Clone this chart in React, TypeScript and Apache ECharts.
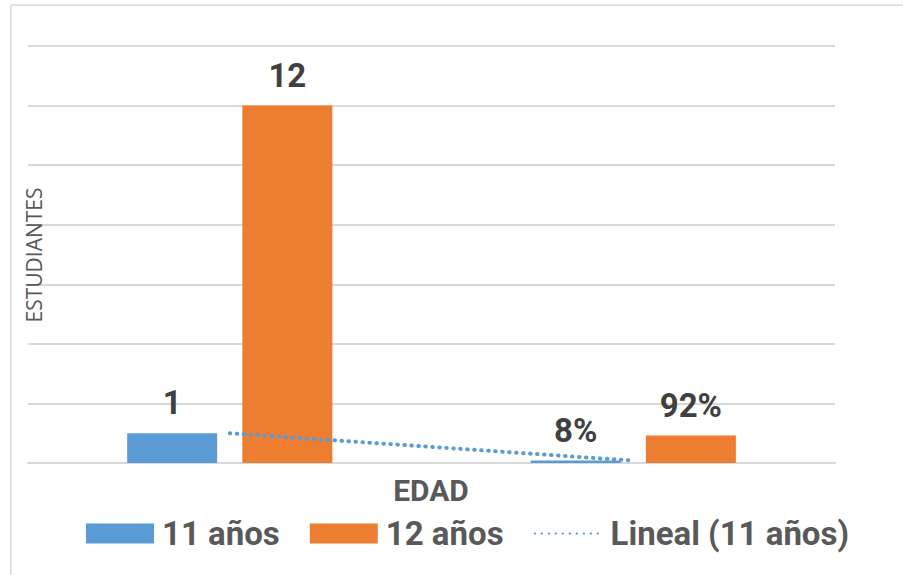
import React, { useEffect, useRef } from "react";
import * as echarts from "echarts";

const categories = ["Cantidad", "Porcentaje"];
const values11 = [1, 0.08];
const values12 = [12, 0.92];
const labels11 = ["1", "8%"];
const labels12 = ["12", "92%"];
const seriesNames = ["11 años", "12 años", "Lineal (11 años)"];
const yMin = 0;
const yMax = 14;
const yInterval = 2;

function linearTrend(vals: number[]): number[] {
  const n = vals.length;
  const xs = vals.map((_, i) => i + 1);
  const mx = xs.reduce((a, b) => a + b, 0) / n;
  const my = vals.reduce((a, b) => a + b, 0) / n;
  let num = 0;
  let den = 0;
  for (let i = 0; i < n; i++) {
    num += (xs[i] - mx) * (vals[i] - my);
    den += (xs[i] - mx) * (xs[i] - mx);
  }
  const slope = den === 0 ? 0 : num / den;
  const icpt = my - slope * mx;
  return xs.map((x) => icpt + slope * x);
}

export default function App() {
  const ref = useRef<HTMLDivElement>(null);
  useEffect(() => {
    if (!ref.current) return;
    const chart = echarts.init(ref.current, null, { renderer: "svg" });
    const font = "Roboto, 'Open Sans', sans-serif";
    const labelStyle = {
      show: true,
      position: "top" as const,
      distance: 14,
      fontFamily: font,
      fontSize: 33,
      fontWeight: "bold" as const,
      color: "#404040",
    };
    const dotted = { color: "#5B9BD5", width: 4, type: [0.5, 6.5], cap: "round" as const };
    chart.setOption({
      animation: false,
      backgroundColor: "#ffffff",
      textStyle: { fontFamily: font },
      graphic: [
        {
          type: "rect",
          z: 100,
          shape: { x: 11, y: 5, width: 900, height: 600 },
          style: { fill: "none", stroke: "#D9D9D9", lineWidth: 1.5 },
          silent: true,
        },
        {
          type: "text",
          z: 100,
          x: 431,
          y: 490,
          style: {
            text: "EDAD",
            fontFamily: font,
            fontSize: 30,
            fontWeight: "bold",
            fill: "#595959",
            align: "center",
            verticalAlign: "middle",
          },
        },
        {
          type: "text",
          z: 100,
          x: 34,
          y: 255,
          rotation: Math.PI / 2,
          style: {
            text: "ESTUDIANTES",
            fontFamily: "'Open Sans', 'DejaVu Sans', sans-serif",
            fontSize: 21,
            fill: "#595959",
            align: "center",
            verticalAlign: "middle",
          },
        },
      ],
      grid: { left: 28, right: 68, top: 46, bottom: 112, containLabel: false },
      legend: {
        top: 517,
        left: 86,
        padding: 0,
        itemWidth: 68,
        itemHeight: 20,
        itemGap: 30,
        textStyle: {
          fontFamily: font,
          fontSize: 33,
          fontWeight: "bold",
          color: "#595959",
          padding: [0, 0, 0, 3],
        },
        data: [
          { name: seriesNames[0], icon: "rect" },
          { name: seriesNames[1], icon: "rect" },
          { name: seriesNames[2], itemStyle: { opacity: 0 } },
        ],
      },
      xAxis: {
        type: "category",
        data: categories,
        axisLine: { show: true, lineStyle: { color: "#D9D9D9", width: 2 } },
        axisTick: { show: false },
        axisLabel: { show: false },
      },
      yAxis: {
        type: "value",
        min: yMin,
        max: yMax,
        interval: yInterval,
        axisLine: { show: false },
        axisTick: { show: false },
        axisLabel: { show: false },
        splitLine: { lineStyle: { color: "#D9D9D9", width: 2 } },
      },
      series: [
        {
          name: seriesNames[0],
          type: "bar",
          data: values11,
          barWidth: 90,
          barGap: "28%",
          itemStyle: { color: "#5B9BD5" },
          label: { ...labelStyle, formatter: (p: any) => labels11[p.dataIndex] },
        },
        {
          name: seriesNames[1],
          type: "bar",
          data: values12,
          barWidth: 90,
          barGap: "28%",
          itemStyle: { color: "#ED7D31" },
          label: { ...labelStyle, formatter: (p: any) => labels12[p.dataIndex] },
        },
        {
          name: seriesNames[2],
          type: "line",
          data: linearTrend(values11),
          symbol: "none",
          showSymbol: false,
          z: 5,
          itemStyle: { color: "#5B9BD5" },
          lineStyle: dotted,
        },
      ],
    });
    return () => chart.dispose();
  }, []);
  return (
    <div
      ref={ref}
      style={{ position: "absolute", left: 0, top: 0, width: 903, height: 575 }}
    />
  );
}
